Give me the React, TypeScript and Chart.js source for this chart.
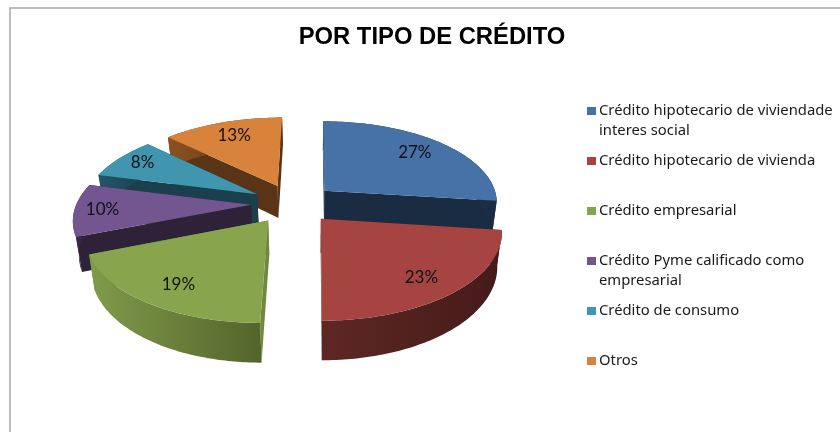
import React, { useEffect, useRef } from "react";
import { Chart, registerables } from "chart.js";

Chart.register(...registerables);

const titleText = "POR TIPO DE CRÉDITO";
const categories: string[][] = [
  ["Crédito hipotecario de viviendade", "interes social"],
  ["Crédito hipotecario de vivienda"],
  ["Crédito empresarial"],
  ["Crédito Pyme calificado como", "empresarial"],
  ["Crédito de consumo"],
  ["Otros"],
];
const shares = [27, 23, 19, 10, 8, 13];
const topColors = ["#4672A8", "#A54441", "#88A44D", "#735690", "#4095AF", "#D9823B"];
const faceColors = ["#1A2C42", "#4A1E1C", "#71893F", "#2E2238", "#1B3F4C", "#5A3416"];
const wallLeft = ["#2A4566", "#5E2724", "#809B4A", "#3A2B4A", "#24566A", "#8A5222"];
const wallRight = ["#1A2C42", "#441B19", "#54652C", "#2E2238", "#1B3F4C", "#5A3416"];
const paintOrder = [0, 5, 4, 3, 2, 1];
const legendY = [111, 161, 211, 261, 311, 361];
const labelNudgeX = [-2, -1, 2, -11, -6, 1];
const labelNudgeY = [0, 3, 2, 1, -3, 0];

// Perspective of the tilted, exploded pie (radius = 1 in model units)
const EXPLODE = 0.24;
const DEPTH = 7.06;
const SCALE_X = 1232;
const SCALE_Y = 4120;
const DROP = 233;
const LOW_X = 0.975;
const CAMERA_U = 0.126;
const VANISH_X = 315;
const VANISH_Y = -380;
const LABEL_AT = 0.78;

const project = (u: number, v: number, low = false) => ({
  x: VANISH_X + (((u - CAMERA_U) * SCALE_X) / (DEPTH + v)) * (low ? LOW_X : 1),
  y: VANISH_Y + (SCALE_Y + (low ? DROP : 0)) / (DEPTH + v),
});

const pie3d = {
  id: "pie3d",
  beforeDatasetDraw: () => false,
  afterDatasetsDraw(chart: any) {
    const ctx: CanvasRenderingContext2D = chart.ctx;
    const arcs = chart.getDatasetMeta(0).data;
    const geo = arcs.map((arc: any) => {
      const a0 = arc.startAngle + Math.PI / 2;
      const a1 = arc.endAngle + Math.PI / 2;
      const mid = (a0 + a1) / 2;
      return { a0, a1, mid, cu: EXPLODE * Math.sin(mid), cv: EXPLODE * Math.cos(mid) };
    });
    const rim = (g: any, a: number, r = 1) => [g.cu + r * Math.sin(a), g.cv + r * Math.cos(a)];
    const poly = (pts: { x: number; y: number }[]) => {
      ctx.beginPath();
      pts.forEach((p, i) => (i ? ctx.lineTo(p.x, p.y) : ctx.moveTo(p.x, p.y)));
      ctx.closePath();
    };
    paintOrder.forEach((i) => {
      const g = geo[i];
      const steps = 80;
      const top: { x: number; y: number }[] = [];
      const low: { x: number; y: number }[] = [];
      for (let s = 0; s <= steps; s++) {
        const [u, v] = rim(g, g.a0 + ((g.a1 - g.a0) * s) / steps);
        top.push(project(u, v));
        low.push(project(u, v, true));
      }
      const apex = project(g.cu, g.cv);
      const apexLow = project(g.cu, g.cv, true);
      // radial faces
      ctx.fillStyle = faceColors[i];
      poly([apex, top[0], low[0], apexLow]);
      ctx.fill();
      poly([apex, top[steps], low[steps], apexLow]);
      ctx.fill();
      // outer wall
      const xs = top.map((p) => p.x);
      const grad = ctx.createLinearGradient(Math.min(...xs), 0, Math.max(...xs), 0);
      grad.addColorStop(0, wallLeft[i]);
      grad.addColorStop(1, wallRight[i]);
      ctx.fillStyle = grad;
      poly([...top, ...low.slice().reverse()]);
      ctx.fill();
      // top surface
      ctx.fillStyle = topColors[i];
      poly([apex, ...top]);
      ctx.fill();
    });
    // value labels
    ctx.fillStyle = "#111111";
    ctx.font = "17px Lato";
    ctx.textAlign = "center";
    ctx.textBaseline = "middle";
    paintOrder.forEach((i) => {
      const g = geo[i];
      const [u, v] = rim(g, g.mid, LABEL_AT);
      const p = project(u, v);
      ctx.fillText(`${shares[i]}%`, p.x + labelNudgeX[i], p.y + labelNudgeY[i]);
    });
    // legend
    ctx.textAlign = "left";
    ctx.font = "14.8px 'Noto Sans'";
    categories.forEach((lines, i) => {
      ctx.fillStyle = topColors[i];
      ctx.fillRect(587, legendY[i] - 4, 9, 8);
      ctx.fillStyle = "#1a1a1a";
      lines.forEach((line, j) => ctx.fillText(line, 599, legendY[i] + j * 20));
    });
    // frame
    ctx.strokeStyle = "#a6a6a6";
    ctx.lineWidth = 1.5;
    ctx.beginPath();
    ctx.moveTo(10, 433);
    ctx.lineTo(10, 8);
    ctx.lineTo(841, 8);
    ctx.stroke();
  },
};

export default function App() {
  const ref = useRef<HTMLCanvasElement>(null);
  useEffect(() => {
    document.body.style.margin = "0";
    const chart = new Chart(ref.current!, {
      type: "pie",
      data: {
        labels: categories as any,
        datasets: [{ data: shares, backgroundColor: topColors, borderWidth: 0 }],
      },
      options: {
        responsive: false,
        animation: false,
        layout: { padding: { left: 24 } },
        plugins: {
          legend: { display: false },
          tooltip: { enabled: false },
          title: {
            display: true,
            text: titleText,
            color: "#000000",
            font: { family: "'Liberation Sans'", size: 23.8, weight: "bold" },
            padding: { top: 23, bottom: 10 },
          },
        },
      },
      plugins: [pie3d],
    } as any);
    return () => chart.destroy();
  }, []);
  return (
    <div style={{ width: 840, height: 432, background: "#ffffff" }}>
      <canvas ref={ref} width={840} height={432} style={{ display: "block" }} />
    </div>
  );
}
